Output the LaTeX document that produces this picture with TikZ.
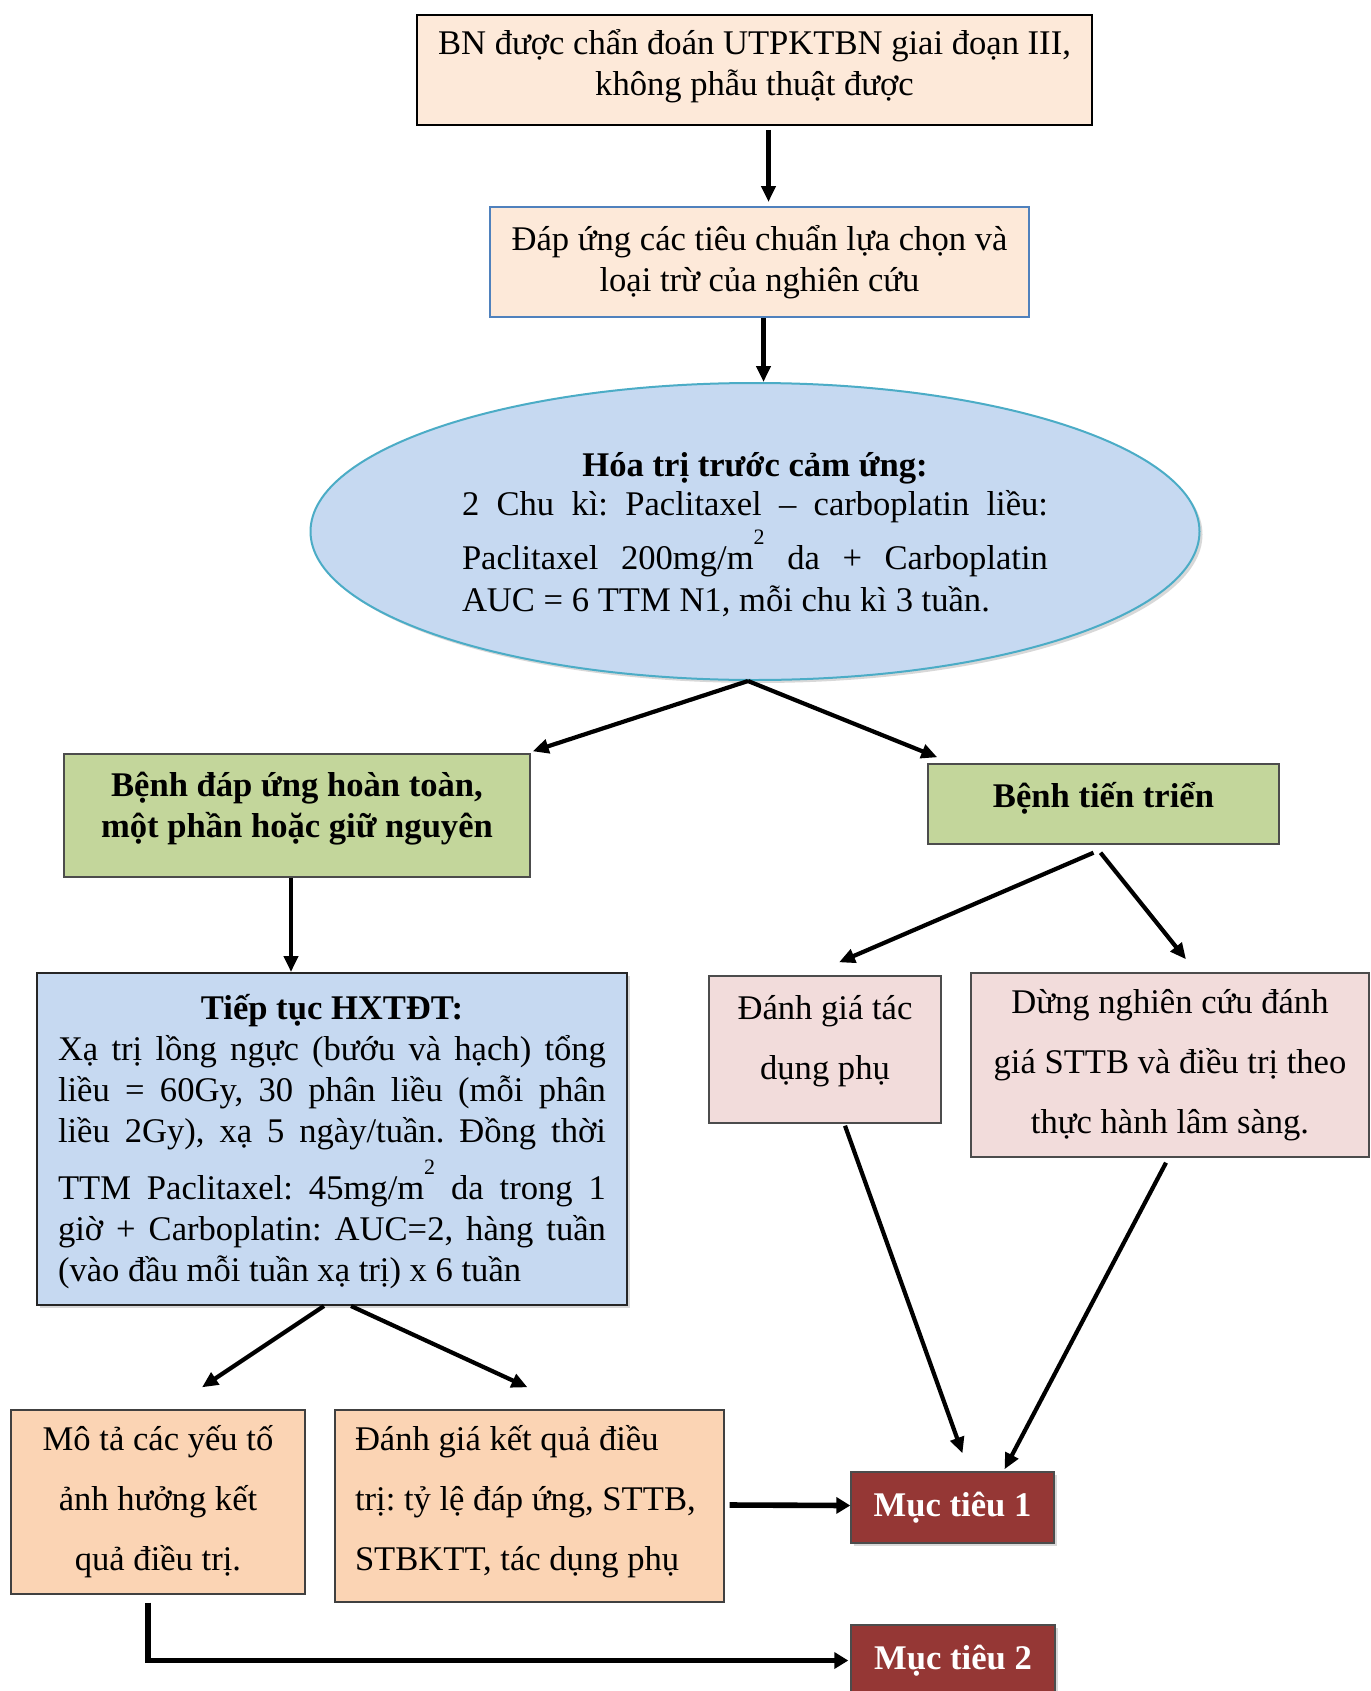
\documentclass[tikz,border=0pt]{standalone}
\usepackage{fontspec}
\setmainfont{Liberation Serif}
\usetikzlibrary{arrows.meta,shapes.geometric,shadows,calc}
\definecolor{peach}{HTML}{FDE9D9}
\definecolor{bordblue}{HTML}{4F81BD}
\definecolor{lblue}{HTML}{C6D9F1}
\definecolor{ellb}{HTML}{4BACC6}
\definecolor{lgreen}{HTML}{C3D69B}
\definecolor{lpink}{HTML}{F2DCDB}
\definecolor{lorange}{HTML}{FBD4B4}
\definecolor{dred}{HTML}{953735}
\newcommand{\nsp}{\spaceskip=\fontdimen2\font\relax\xspaceskip=0pt\frenchspacing}
\newcommand{\jl}[2][293pt]{{\spaceskip=\fontdimen2\font plus 1fil\relax\makebox[#1][s]{#2}}}
\newcommand{\suptwo}{\raisebox{12.5pt}{\fontsize{11}{11}\selectfont 2}}
\newcommand{\upk}[1]{\par\kern#1\relax}
\tikzset{
  box/.style={rectangle, draw=black!80, line width=0.7pt, inner sep=0pt, align=center,
    font=\fontsize{17.3}{20.5}\selectfont, execute at begin node=\nsp},
  wide/.style={font=\fontsize{17.3}{30}\selectfont},
  shad/.style={drop shadow={opacity=0.3,shadow xshift=1.5pt,shadow yshift=-1.5pt}},
  arr/.style={line width=2.1pt, -{Triangle[length=8pt,width=7pt]}},
  bigarr/.style={line width=2.8pt, -{Triangle[length=7pt,width=8pt]}},
}
\begin{document}
\begin{tikzpicture}[x=0.5pt,y=-0.5pt]
\useasboundingbox (0,0) rectangle (1370,1691);
\fill[white] (0,0) rectangle (1370,1691);

\node[box, fill=peach, draw=black, line width=1pt, minimum width=337.5pt, minimum height=55pt, text width=330pt] (top) at (754.5,70)
  {BN được chẩn đoán UTPKTBN giai đoạn III,\\ không phẫu thuật được\upk{3.8pt}};

\node[box, fill=peach, draw=bordblue, line width=1pt, minimum width=269.5pt, minimum height=55pt, text width=262pt] (crit) at (759.5,262)
  {Đáp ứng các tiêu chuẩn lựa chọn và\\ loại trừ của nghiên cứu};

\node[ellipse, shad, draw=ellb, line width=1pt, fill=lblue, minimum width=444.5pt, minimum height=148.5pt, inner sep=0pt,
  text width=293pt, align=left, font=\fontsize{17.3}{21}\selectfont, execute at begin node=\nsp] (ind) at (755,531.5)
  {\raisebox{-1.6pt}[\height][\depth]{\makebox[293pt]{\bfseries Hóa trị trước cảm ứng:}}\\
   \jl{2 Chu kì: Paclitaxel – carboplatin liều:}\\
   \jl{\rule{0pt}{22.5pt}Paclitaxel 200mg/m\suptwo{} da + Carboplatin}\\
   AUC = 6 TTM N1, mỗi chu kì 3 tuần.\upk{-1.5pt}};

\node[box, fill=lgreen, draw=black!70, minimum width=233pt, minimum height=61.5pt, text width=225pt, font=\fontsize{17.3}{20.5}\selectfont\bfseries] (resp) at (297,815.5)
  {Bệnh đáp ứng hoàn toàn,\\ một phần hoặc giữ nguyên\upk{7pt}};

\node[box, fill=lgreen, draw=black!70, minimum width=175.5pt, minimum height=40pt, text width=170pt, font=\fontsize{17.3}{20.5}\selectfont\bfseries] (prog) at (1103.5,804)
  {Bệnh tiến triển\upk{5.4pt}};

\node[box, shad, fill=lblue, draw=black!85, line width=1pt, minimum width=295pt, minimum height=166pt, text width=274pt, text height=15pt, align=left] (chemo) at (332,1139)
  {\makebox[274pt]{\bfseries Tiếp tục HXTĐT:}\\
   \jl[274pt]{Xạ trị lồng ngực (bướu và hạch) tổng}\\
   \jl[274pt]{liều = 60Gy, 30 phân liều (mỗi phân}\\
   \jl[274pt]{liều 2Gy), xạ 5 ngày/tuần. Đồng thời}\\
   \jl[274pt]{\rule{0pt}{23.5pt}TTM Paclitaxel: 45mg/m\suptwo{} da trong 1}\\
   \jl[274pt]{giờ + Carboplatin: AUC=2, hàng tuần}\\
   (vào đầu mỗi tuần xạ trị) x 6 tuần};

\node[box, wide, fill=lpink, draw=black!70, minimum width=116pt, minimum height=73.5pt, text width=112pt] (side) at (825,1049.5)
  {Đánh giá tác\\ dụng phụ\upk{8.6pt}};

\node[box, wide, fill=lpink, draw=black!70, minimum width=199pt, minimum height=92pt, text width=195pt] (stop) at (1170,1065)
  {Dừng nghiên cứu đánh\\ giá STTB và điều trị theo\\ thực hành lâm sàng.};

\node[box, wide, fill=lorange, draw=black!75, minimum width=147pt, minimum height=92pt, text width=143pt] (fact) at (158,1502)
  {Mô tả các yếu tố\\ ảnh hưởng kết\\ quả điều trị.};

\node[box, wide, fill=lorange, draw=black!75, minimum width=194.5pt, minimum height=96pt, text width=174.5pt, align=left] (eval) at (529.5,1506)
  {\mbox{Đánh giá kết quả điều}\\ \mbox{trị: tỷ lệ đáp ứng, STTB,}\\ \mbox{STBKTT, tác dụng phụ}\upk{4pt}};

\node[box, shad, fill=dred, draw=black!70, minimum width=101.5pt, minimum height=35.5pt, text width=100pt, text=white, font=\fontsize{17.3}{20.5}\selectfont\bfseries] (g1) at (952.5,1507.5)
  {Mục tiêu 1};

\node[box, shad, fill=dred, draw=black!70, minimum width=102pt, minimum height=35.5pt, text width=100pt, text=white, font=\fontsize{17.3}{20.5}\selectfont\bfseries] (g2) at (953,1660.5)
  {Mục tiêu 2};

% connectors
\draw[arr] ([xshift=7pt,yshift=-2pt]top.south) -- ([xshift=7pt,yshift=2pt]top.south |- crit.north);
\draw[arr] ([xshift=2pt]crit.south) -- ([xshift=2pt]crit.south |- ind.north);
\draw[arr] ([xshift=-3.5pt]ind.south) -- ([xshift=1pt,yshift=1pt]resp.north east);
\draw[arr] ([xshift=-3.5pt]ind.south) -- ([xshift=5pt,yshift=3pt]prog.north west);
\draw[arr] ([xshift=-3pt]resp.south) -- ([xshift=-3pt]resp.south |- chemo.north);
\draw[arr] ([xshift=-5pt,yshift=-4pt]prog.south) -- ([xshift=7pt,yshift=6.5pt]side.north);
\draw[arr] ([xshift=-1.5pt,yshift=-4pt]prog.south) -- ([xshift=8pt,yshift=6.5pt]stop.north);
\draw[arr] ([xshift=10pt,yshift=-1pt]side.south) -- ([xshift=5pt,yshift=9pt]g1.north);
\draw[arr] ([xshift=-2pt,yshift=-2.5pt]stop.south) -- ([xshift=26pt,yshift=1pt]g1.north);
\draw[arr] ([xshift=-4pt]chemo.south) -- ([xshift=22pt,yshift=11pt]fact.north);
\draw[arr] ([xshift=9.5pt]chemo.south) -- ([xshift=-1pt,yshift=11pt]eval.north);
\draw[bigarr] ([xshift=2.5pt,yshift=0.5pt]eval.east) -- ([yshift=1pt]g1.west);
\draw[bigarr] ([xshift=-5pt,yshift=-4pt]fact.south) |- ([xshift=-1pt]g2.west);
\end{tikzpicture}
\end{document}
